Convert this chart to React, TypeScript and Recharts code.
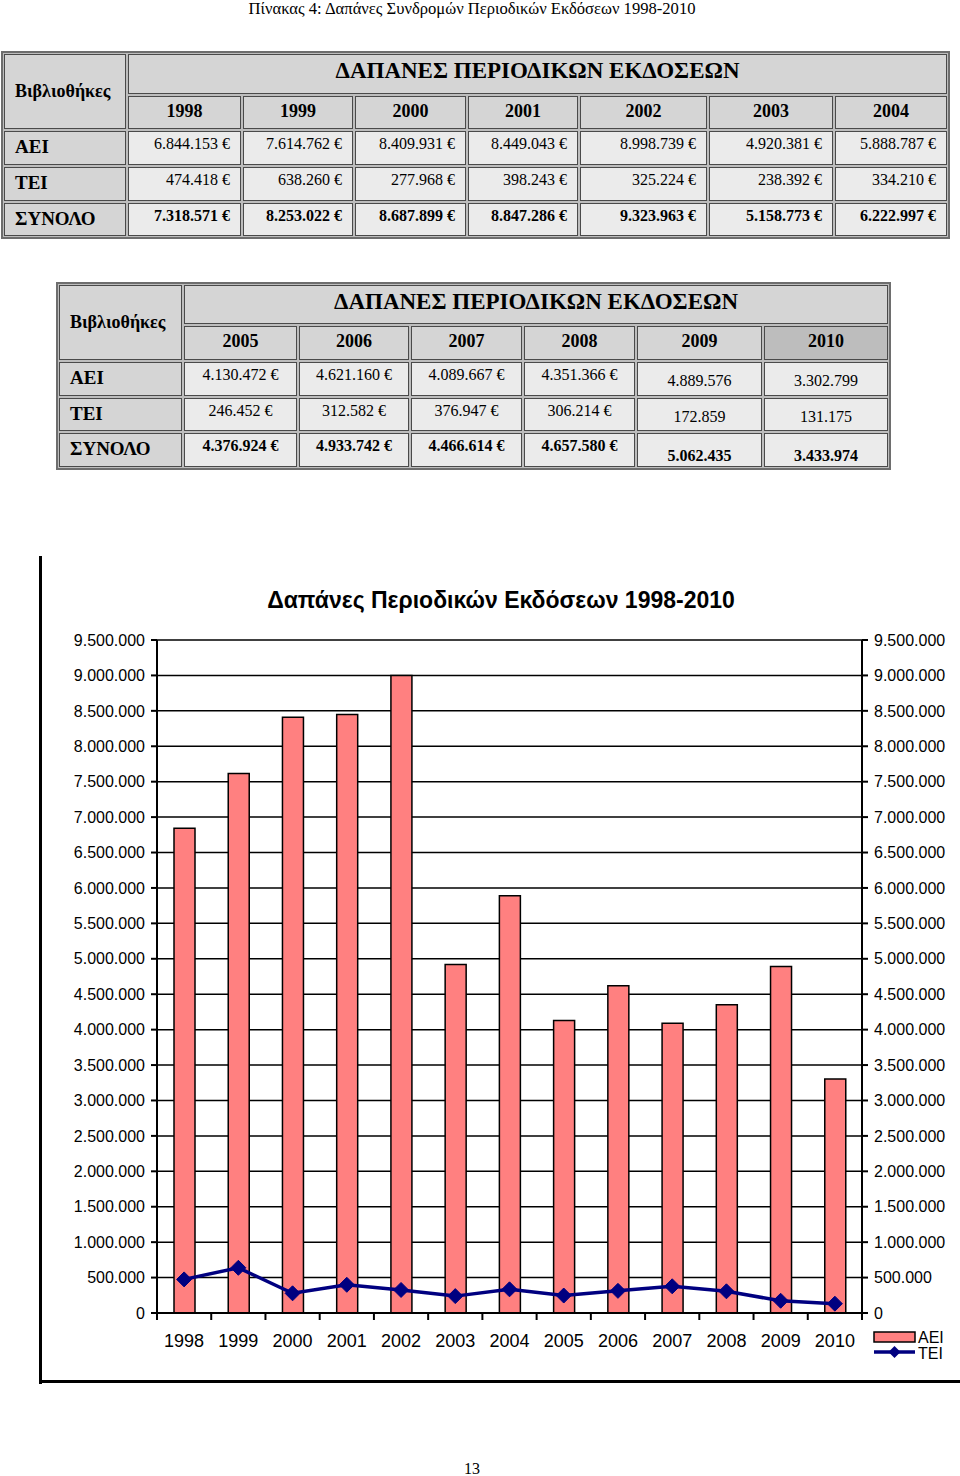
import React from 'react';
import { ComposedChart, Bar, Line, XAxis, YAxis, CartesianGrid, Legend } from 'recharts';

const years = ['1998', '1999', '2000', '2001', '2002', '2003', '2004', '2005', '2006', '2007', '2008', '2009', '2010'];
const aeiValues = [6844153, 7614762, 8409931, 8449043, 8998739, 4920381, 5888787, 4130472, 4621160, 4089667, 4351366, 4889576, 3302799];
const teiValues = [474418, 638260, 277968, 398243, 325224, 238392, 334210, 246452, 312582, 376947, 306214, 172859, 131175];
const yTicks = [0, 500000, 1000000, 1500000, 2000000, 2500000, 3000000, 3500000, 4000000, 4500000, 5000000, 5500000, 6000000, 6500000, 7000000, 7500000, 8000000, 8500000, 9000000, 9500000];

const pageTitle = 'Πίνακας 4: Δαπάνες Συνδρομών Περιοδικών Εκδόσεων 1998-2010';
const chartTitle = 'Δαπάνες Περιοδικών Εκδόσεων 1998-2010';
const tableHeader = 'ΔΑΠΑΝΕΣ ΠΕΡΙΟΔΙΚΩΝ ΕΚΔΟΣΕΩΝ';
const rowLabelHead = 'Βιβλιοθήκες';
const rowLabels = ['ΑΕΙ', 'ΤΕΙ', 'ΣΥΝΟΛΟ'];

const table1Years = ['1998', '1999', '2000', '2001', '2002', '2003', '2004'];
const table1Aei = ['6.844.153 €', '7.614.762 €', '8.409.931 €', '8.449.043 €', '8.998.739 €', '4.920.381 €', '5.888.787 €'];
const table1Tei = ['474.418 €', '638.260 €', '277.968 €', '398.243 €', '325.224 €', '238.392 €', '334.210 €'];
const table1Total = ['7.318.571 €', '8.253.022 €', '8.687.899 €', '8.847.286 €', '9.323.963 €', '5.158.773 €', '6.222.997 €'];

const table2Years = ['2005', '2006', '2007', '2008', '2009', '2010'];
const table2Aei = ['4.130.472 €', '4.621.160 €', '4.089.667 €', '4.351.366 €', '4.889.576', '3.302.799'];
const table2Tei = ['246.452 €', '312.582 €', '376.947 €', '306.214 €', '172.859', '131.175'];
const table2Total = ['4.376.924 €', '4.933.742 €', '4.466.614 €', '4.657.580 €', '5.062.435', '3.433.974'];

const pageNumber = '13';

const chartData = years.map((y, i) => ({ year: y, aei: aeiValues[i], tei: teiValues[i] }));

const SERIF = '"Liberation Serif", "Times New Roman", serif';
const SANS = '"Liberation Sans", Arial, sans-serif';

const fmt = (n: number) => String(n).replace(/\B(?=(\d{3})+(?!\d))/g, '.');

type CellProps = {
  x0: number; x1: number; y0: number; y1: number;
  bg: string; text: string; bold?: boolean; size: number;
  align: 'left' | 'center' | 'right'; padTop?: number; padX?: number; valign?: 'top' | 'middle' | 'bottom';
};

function Cell({ x0, x1, y0, y1, bg, text, bold, size, align, padTop = 0, padX = 10, valign = 'top' }: CellProps) {
  const justify = valign === 'top' ? 'flex-start' : valign === 'middle' ? 'center' : 'flex-end';
  return (
    <div
      style={{
        position: 'absolute', left: x0 + 1, top: y0 + 1, width: x1 - x0 - 2, height: y1 - y0 - 2,
        boxSizing: 'border-box', border: '1px solid #4a4a4a', background: bg,
        display: 'flex', flexDirection: 'column', justifyContent: justify,
        paddingTop: padTop, paddingLeft: padX, paddingRight: padX, paddingBottom: valign === 'bottom' ? 1 : 0,
        fontFamily: SERIF, fontSize: size, fontWeight: bold ? 'bold' : 'normal', textAlign: align,
        lineHeight: `${size + 3}px`, whiteSpace: 'nowrap', color: '#000',
      }}
    >
      {text}
    </div>
  );
}

type TableProps = {
  xs: number[]; ys: number[]; yearsRow: string[]; rows: string[][];
  dataAlign: 'right' | 'center'; lateCols: number; headerDark?: number;
};

function DataTable({ xs, ys, yearsRow, rows, dataAlign, lateCols, headerDark }: TableProps) {
  const left = xs[0] - 2;
  const right = xs[xs.length - 1] + 2;
  const top = ys[0] - 2;
  const bottom = ys[ys.length - 1] + 2;
  const cells: React.ReactNode[] = [];
  const HEAD = '#d5d5d5';
  const DATA = '#ebebeb';
  cells.push(<Cell key="lh" x0={xs[0]} x1={xs[1]} y0={ys[0]} y1={ys[2]} bg={HEAD} text={rowLabelHead} bold size={18} align="left" padX={10} valign="middle" />);
  cells.push(<Cell key="hh" x0={xs[1]} x1={xs[xs.length - 1]} y0={ys[0]} y1={ys[1]} bg={HEAD} text={tableHeader} bold size={23} align="center" padTop={3} />);
  yearsRow.forEach((yr, i) => {
    cells.push(
      <Cell key={'y' + i} x0={xs[i + 1]} x1={xs[i + 2]} y0={ys[1]} y1={ys[2]} bg={headerDark === i ? '#bdbdbd' : HEAD} text={yr} bold size={18} align="center" padTop={4} />
    );
  });
  rows.forEach((row, r) => {
    cells.push(
      <Cell key={'l' + r} x0={xs[0]} x1={xs[1]} y0={ys[r + 2]} y1={ys[r + 3]} bg={HEAD} text={rowLabels[r]} bold size={19} align="left" padX={10} padTop={4} />
    );
    row.forEach((v, c) => {
      const late = c >= row.length - lateCols;
      cells.push(
        <Cell
          key={'d' + r + '-' + c}
          x0={xs[c + 1]} x1={xs[c + 2]} y0={ys[r + 2]} y1={ys[r + 3]}
          bg={DATA} text={v} bold={r === 2} size={16} align={dataAlign}
          padTop={late ? (r === 2 ? 0 : 8) : 2}
          valign={late && r === 2 ? 'bottom' : 'top'}
          padX={10}
        />
      );
    });
  });
  return (
    <>
      <div style={{ position: 'absolute', left, top, width: right - left, height: bottom - top, boxSizing: 'border-box', border: '2px solid #6e6e6e', background: '#bdbdbd' }} />
      {cells}
    </>
  );
}

const Diamond = (props: any) => {
  const { cx, cy } = props;
  if (cx == null || cy == null) return null;
  const r = 7.5;
  return <polygon points={`${cx},${cy - r} ${cx + r},${cy} ${cx},${cy + r} ${cx - r},${cy}`} fill="#000080" stroke="#000080" />;
};

const TICK_SIZE = 8;
const TICK_MARGIN = 13;

const XTick = (props: any) => {
  const { x, y, payload, index, visibleTicksCount } = props;
  const off = payload && typeof payload.offset === 'number' ? payload.offset : 0;
  const axisY = y - TICK_SIZE - TICK_MARGIN;
  return (
    <g>
      <line x1={x - off} y1={axisY} x2={x - off} y2={axisY + 7} stroke="#000" strokeWidth={2} />
      {index === visibleTicksCount - 1 ? (
        <line x1={x + off} y1={axisY} x2={x + off} y2={axisY + 7} stroke="#000" strokeWidth={2} />
      ) : null}
      <text x={x} y={y} dy="0.71em" textAnchor="middle" fontFamily={SANS} fontSize={18} fill="#000">
        {payload.value}
      </text>
    </g>
  );
};

const LegendContent = () => (
  <svg width={90} height={36} style={{ display: 'block', overflow: 'visible' }}>
    <rect x={1} y={1} width={41} height={10} fill="#FF8080" stroke="#000" strokeWidth={1.5} />
    <text x={45} y={12} fontFamily={SANS} fontSize={16} fill="#000">ΑΕΙ</text>
    <line x1={1} y1={21} x2={42} y2={21} stroke="#000080" strokeWidth={3.5} />
    <polygon points="21.5,15 27.5,21 21.5,27 15.5,21" fill="#000080" />
    <text x={45} y={28} fontFamily={SANS} fontSize={16} fill="#000">ΤΕΙ</text>
  </svg>
);

export default function App() {
  const axisTick = { fontSize: 16, fill: '#000', fontFamily: SANS };
  return (
    <div style={{ position: 'absolute', left: 0, top: 0, width: 960, height: 1476, background: '#fff', overflow: 'hidden' }}>
      <div style={{ position: 'absolute', left: 0, width: 944, top: -1, textAlign: 'center', fontFamily: SERIF, fontSize: 16.6, lineHeight: '19px' }}>
        {pageTitle}
      </div>

      <DataTable
        xs={[3, 127, 242, 354, 467, 579, 708, 834, 948]}
        ys={[53, 95, 130, 166, 202, 237]}
        yearsRow={table1Years}
        rows={[table1Aei, table1Tei, table1Total]}
        dataAlign="right"
        lateCols={0}
      />

      <DataTable
        xs={[58, 183, 298, 410, 523, 636, 763, 889]}
        ys={[284, 325, 361, 397, 432, 468]}
        yearsRow={table2Years}
        rows={[table2Aei, table2Tei, table2Total]}
        dataAlign="center"
        lateCols={2}
        headerDark={5}
      />

      <div style={{ position: 'absolute', left: 39, top: 556, width: 3, height: 828, background: '#000' }} />
      <div style={{ position: 'absolute', left: 39, top: 1380, width: 921, height: 3, background: '#000' }} />

      <div style={{ position: 'absolute', left: 101, width: 800, top: 587, textAlign: 'center', fontFamily: SANS, fontSize: 23, fontWeight: 'bold', lineHeight: '26px', color: '#000' }}>
        {chartTitle}
      </div>

      <div style={{ position: 'absolute', left: 0, top: 560 }}>
        <ComposedChart width={960} height={830} data={chartData} margin={{ top: 80, right: 0, left: 0, bottom: 37 }}>
          <CartesianGrid vertical={false} horizontal stroke="#000" strokeWidth={1.5} yAxisId="left" />
          <XAxis
            dataKey="year"
            height={40}
            axisLine={{ stroke: '#000', strokeWidth: 2 }}
            tickLine={false}
            tickSize={TICK_SIZE}
            tickMargin={TICK_MARGIN}
            interval={0}
            tick={<XTick />}
          />
          <YAxis
            yAxisId="left"
            orientation="left"
            width={157}
            domain={[0, 9500000]}
            ticks={yTicks}
            interval={0}
            tickFormatter={fmt}
            tick={axisTick}
            tickSize={6}
            tickMargin={6}
            axisLine={{ stroke: '#000', strokeWidth: 2 }}
            tickLine={{ stroke: '#000', strokeWidth: 2 }}
          />
          <YAxis
            yAxisId="right"
            orientation="right"
            width={98}
            domain={[0, 9500000]}
            ticks={yTicks}
            interval={0}
            tickFormatter={fmt}
            tick={axisTick}
            tickSize={6}
            tickMargin={6}
            axisLine={{ stroke: '#000', strokeWidth: 2 }}
            tickLine={{ stroke: '#000', strokeWidth: 2 }}
          />
          <Bar yAxisId="left" dataKey="aei" name="ΑΕΙ" fill="#FF8080" stroke="#000" strokeWidth={1.5} barSize={21} isAnimationActive={false} />
          <Line yAxisId="right" dataKey="tei" name="ΤΕΙ" type="linear" stroke="#000080" strokeWidth={3.5} dot={<Diamond />} activeDot={false} isAnimationActive={false} />
          <Legend
            layout="vertical"
            align="center"
            verticalAlign="middle"
            content={<LegendContent />}
            wrapperStyle={{ left: 873, top: 771, width: 90, height: 36 }}
          />
        </ComposedChart>
      </div>

      <div style={{ position: 'absolute', left: 0, width: 944, top: 1460, textAlign: 'center', fontFamily: SERIF, fontSize: 16, lineHeight: '18px' }}>
        {pageNumber}
      </div>
    </div>
  );
}
